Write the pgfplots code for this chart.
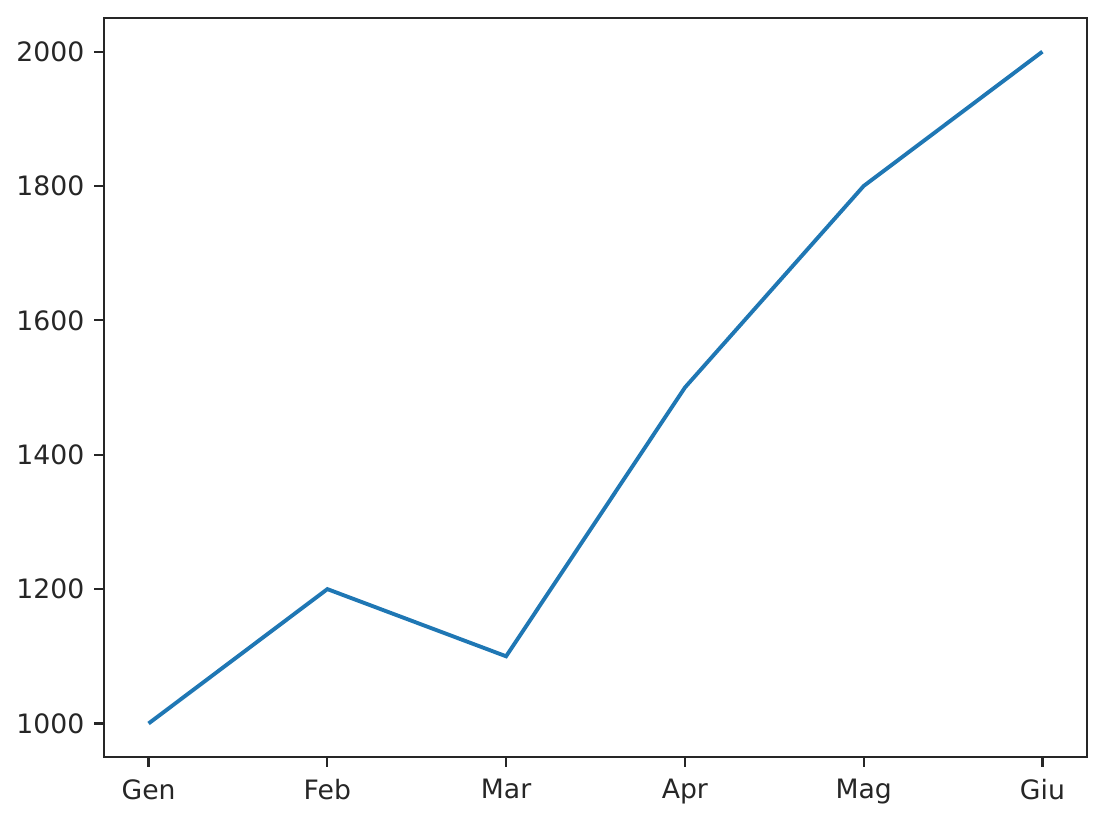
\documentclass[border=0pt]{standalone}
\usepackage{pgfplots}
\pgfplotsset{compat=1.18}
\usepackage{fontspec}
\setmainfont{DejaVu Sans}
\definecolor{mplblue}{HTML}{1F77B4}
\definecolor{txtgray}{RGB}{38,38,38}
\begin{document}
\begin{tikzpicture}
\begin{axis}[
  scale only axis,
  width=353.9pt, height=266pt,
  xmin=-0.25, xmax=5.25,
  ymin=950, ymax=2050,
  xtick={0,1,2,3,4,5},
  xticklabels={Gen,Feb,Mar,Apr,Mag,Giu},
  ytick={1000,1200,1400,1600,1800,2000},
  tick align=outside,
  major tick length=3.5pt,
  tick style={txtgray, line width=0.8pt},
  axis line style={txtgray, line width=0.8pt},
  xtick pos=bottom, ytick pos=left,
  tick label style={font=\fontsize{9.6pt}{11.5pt}\selectfont, text=txtgray},
  /pgf/number format/assume math mode=true,
  /pgf/number format/1000 sep={},
  xticklabel style={yshift=-1pt},
]
\addplot[mplblue, line width=1.4pt, mark=none] coordinates {
  (0,1000) (1,1200) (2,1100) (3,1500) (4,1800) (5,2000)
};
\end{axis}
\pgfresetboundingbox
\path (current axis.south west) ++(-37.4pt,-22.7pt) coordinate (a);
\path (current axis.north east) ++(10.4pt,6.5pt) coordinate (b);
\useasboundingbox (a) rectangle (b);
\end{tikzpicture}
\end{document}
